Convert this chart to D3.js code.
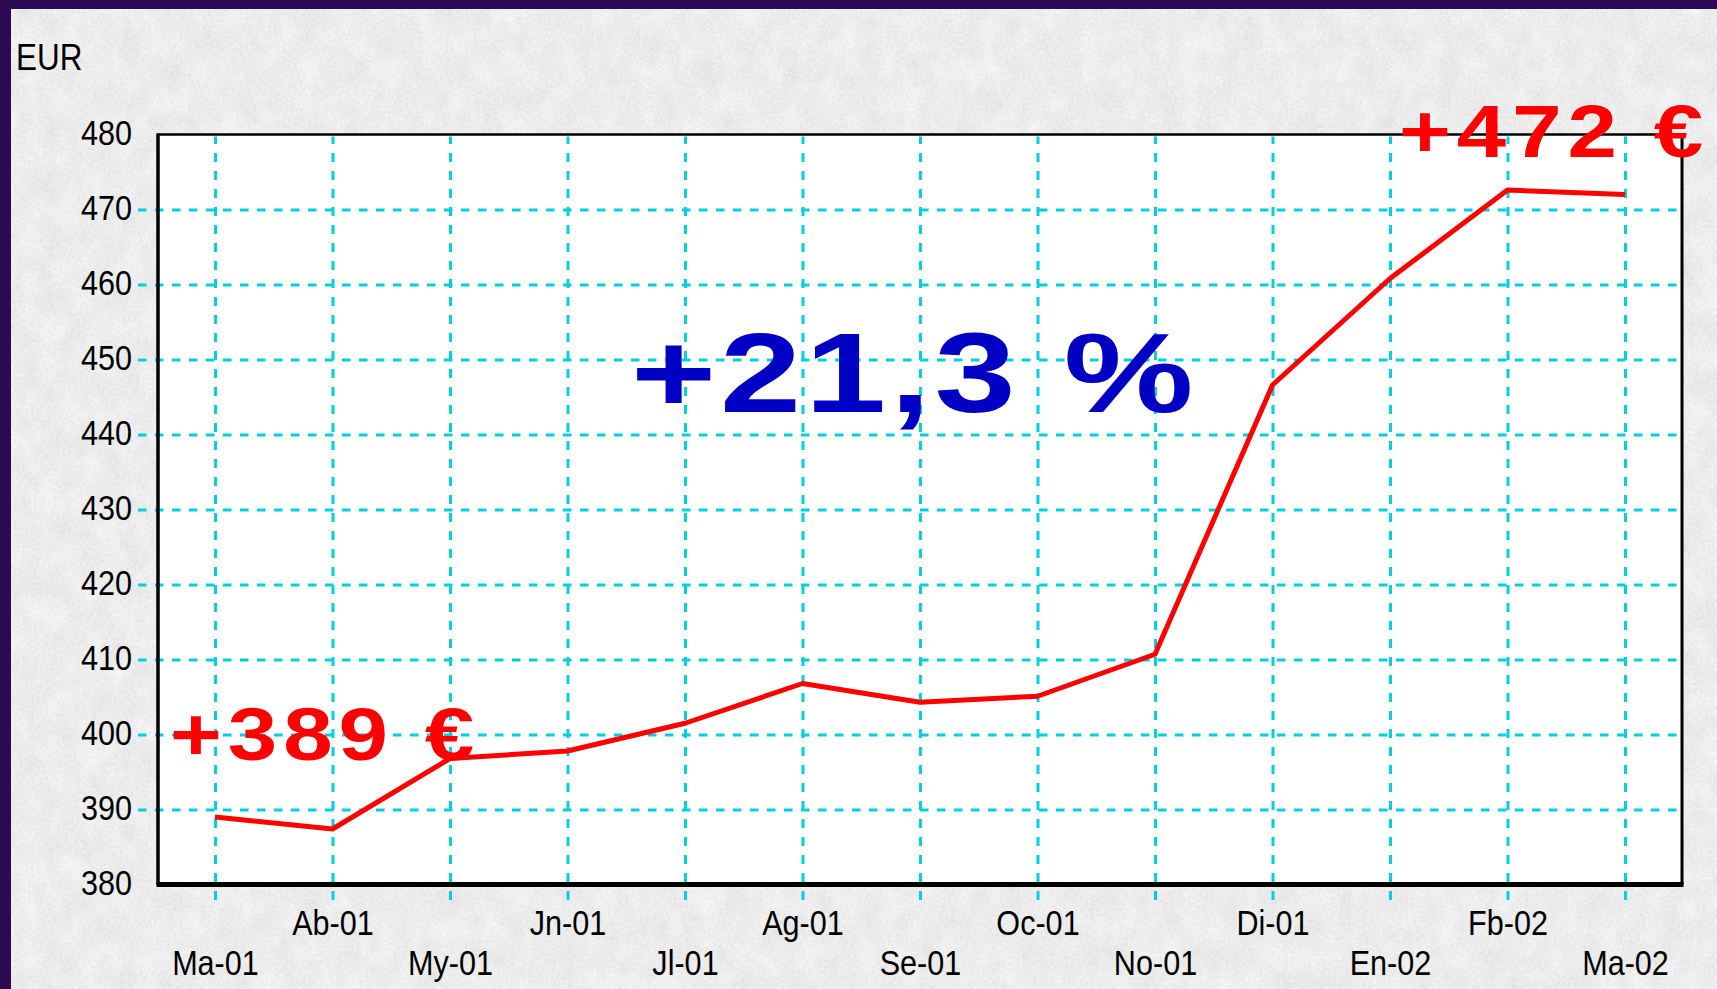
<!DOCTYPE html>
<html>
<head>
<meta charset="utf-8">
<script src="https://cdn.jsdelivr.net/npm/d3@7/dist/d3.min.js"></script>
<style>
  html, body { margin: 0; padding: 0; background: #2b0953; }
  svg { display: block; }
  .xlab text { transform-box: fill-box; transform-origin: 50% 50%; transform: scaleX(0.85); }
  .ylab text { transform-box: fill-box; transform-origin: 100% 50%; transform: scaleX(0.85); }
</style>
</head>
<body>
<svg id="chart" width="1717" height="989"></svg>
<script>
// Monthly price series, March 2001 - March 2002 (EUR)
const months = ["Ma-01", "Ab-01", "My-01", "Jn-01", "Jl-01", "Ag-01", "Se-01",
                "Oc-01", "No-01", "Di-01", "En-02", "Fb-02", "Ma-02"];
const prices = [389, 387.4, 396.8, 397.8, 401.5, 406.8, 404.3,
                405.1, 410.7, 446.6, 460.8, 472.6, 472];
const yTicks = [380, 390, 400, 410, 420, 430, 440, 450, 460, 470, 480];
const yGrid = [390, 400, 410, 420, 430, 440, 450, 460, 470];
const unitLabel = "EUR";
const startLabel = "+389 €";
const endLabel = "+472 €";
const changeLabel = "+21,3 %";

const W = 1717, H = 989;
const plot = { left: 158, right: 1682, top: 134.5, bottom: 884.5 };
const gridColor = "#00cfe0";
const tickFont = "'Liberation Sans', Arial, sans-serif";

const svg = d3.select("#chart");

// Mottled grey paper texture
const defs = svg.append("defs");
const f = defs.append("filter").attr("id", "paper")
  .attr("x", 0).attr("y", 0).attr("width", "100%").attr("height", "100%");
f.append("feTurbulence").attr("type", "fractalNoise")
  .attr("baseFrequency", "0.05 0.035").attr("numOctaves", 2).attr("seed", 11).attr("result", "low");
f.append("feTurbulence").attr("type", "fractalNoise")
  .attr("baseFrequency", "0.35").attr("numOctaves", 2).attr("seed", 3).attr("result", "high");
f.append("feComposite").attr("in", "low").attr("in2", "high")
  .attr("operator", "arithmetic").attr("k1", 0).attr("k2", 0.45).attr("k3", 0.55).attr("k4", 0)
  .attr("result", "mix");
f.append("feColorMatrix").attr("in", "mix").attr("type", "matrix")
  .attr("values", "0.3 0 0 0 0.69  0.3 0 0 0 0.69  0.3 0 0 0 0.695  0 0 0 0 1");

svg.append("rect").attr("width", W).attr("height", H).attr("fill", "#d6d6d6");
svg.append("rect").attr("width", W).attr("height", H).attr("filter", "url(#paper)");

// Dark frame along top and left edges
svg.append("rect").attr("x", 0).attr("y", 0).attr("width", W).attr("height", 9).attr("fill", "#2b0953");
svg.append("rect").attr("x", 0).attr("y", 0).attr("width", 11).attr("height", H).attr("fill", "#2b0953");

// Scales
const x = d3.scalePoint().domain(months).range([plot.left, plot.right]).padding(0.485);
const y = d3.scaleLinear().domain([380, 480]).range([plot.bottom, plot.top]);

// Plot background
svg.append("rect")
  .attr("x", plot.left).attr("y", plot.top)
  .attr("width", plot.right - plot.left).attr("height", plot.bottom - plot.top)
  .attr("fill", "#ffffff");

// Horizontal dashed grid (extends a little left of the frame)
const gridLeft = 138;
const hGrid = svg.append("g")
  .attr("transform", `translate(${gridLeft},0)`)
  .call(d3.axisLeft(y).tickValues(yGrid).tickSize(-(plot.right - gridLeft)).tickFormat(""));
hGrid.select(".domain").remove();
hGrid.selectAll(".tick line")
  .attr("stroke", gridColor).attr("stroke-width", 3).attr("stroke-dasharray", "8.5 8.5");

// Vertical dashed grid (extends a little below the frame)
const gridBottom = 900;
const vGrid = svg.append("g")
  .attr("transform", `translate(0,${gridBottom})`)
  .call(d3.axisBottom(x).tickSize(-(gridBottom - plot.top - 2)).tickFormat(""));
vGrid.select(".domain").remove();
vGrid.selectAll(".tick line")
  .attr("stroke", gridColor).attr("stroke-width", 3).attr("stroke-dasharray", "9 9");

// Frame
const frame = svg.append("g").attr("stroke", "#000");
frame.append("line").attr("x1", plot.left - 1).attr("x2", plot.right + 1)
  .attr("y1", plot.top).attr("y2", plot.top).attr("stroke-width", 2.5);
frame.append("line").attr("x1", plot.left).attr("x2", plot.left)
  .attr("y1", plot.top - 1).attr("y2", plot.bottom).attr("stroke-width", 3.5);
frame.append("line").attr("x1", plot.right).attr("x2", plot.right)
  .attr("y1", plot.top - 1).attr("y2", plot.bottom).attr("stroke-width", 3);
frame.append("line").attr("x1", plot.left - 1.5).attr("x2", plot.right + 1.5)
  .attr("y1", plot.bottom).attr("y2", plot.bottom).attr("stroke-width", 5);

// Y tick labels
const yAxis = svg.append("g").attr("class", "ylab")
  .attr("transform", `translate(${plot.left},0)`)
  .call(d3.axisLeft(y).tickValues(yTicks).tickSize(0).tickPadding(26).tickFormat(d3.format("d")));
yAxis.select(".domain").remove();
yAxis.selectAll("text")
  .attr("font-family", tickFont).attr("font-size", 36).attr("fill", "#000")
  .attr("dy", "0.29em");

// X tick labels, staggered on two rows
const xAxis = svg.append("g").attr("class", "xlab")
  .attr("transform", `translate(0,${plot.bottom})`)
  .call(d3.axisBottom(x).tickSize(0));
xAxis.select(".domain").remove();
xAxis.selectAll("text")
  .attr("font-family", tickFont).attr("font-size", 36).attr("fill", "#000")
  .attr("dy", null)
  .attr("y", (d, i) => (i % 2 ? 935 : 975) - plot.bottom);

// Unit label
svg.append("text")
  .attr("transform", "translate(16,70) scale(0.85,1)")
  .attr("font-family", tickFont).attr("font-size", 37).attr("fill", "#000")
  .text(unitLabel);

// Price line
const line = d3.line()
  .x((d, i) => x(months[i]))
  .y(d => y(d));
svg.append("path")
  .datum(prices)
  .attr("d", line)
  .attr("fill", "none")
  .attr("stroke", "#ff0000")
  .attr("stroke-width", 5)
  .attr("stroke-linejoin", "round");

// Big annotations
function bigText(str, x0, base, size, sx, spacing, color) {
  svg.append("text")
    .attr("transform", `translate(${x0},${base}) scale(${sx},1)`)
    .attr("font-family", "'Liberation Sans', Arial, sans-serif")
    .attr("font-weight", "bold")
    .attr("font-size", size)
    .attr("letter-spacing", spacing)
    .attr("fill", color)
    .text(str);
}
bigText(startLabel, 170, 760, 74, 1.2, 5, "#ff0000");
bigText(endLabel, 1399, 157, 74, 1.2, 5, "#ff0000");
bigText(changeLabel, 631, 412, 114, 1.28, 3, "#0000c4");
</script>
</body>
</html>
